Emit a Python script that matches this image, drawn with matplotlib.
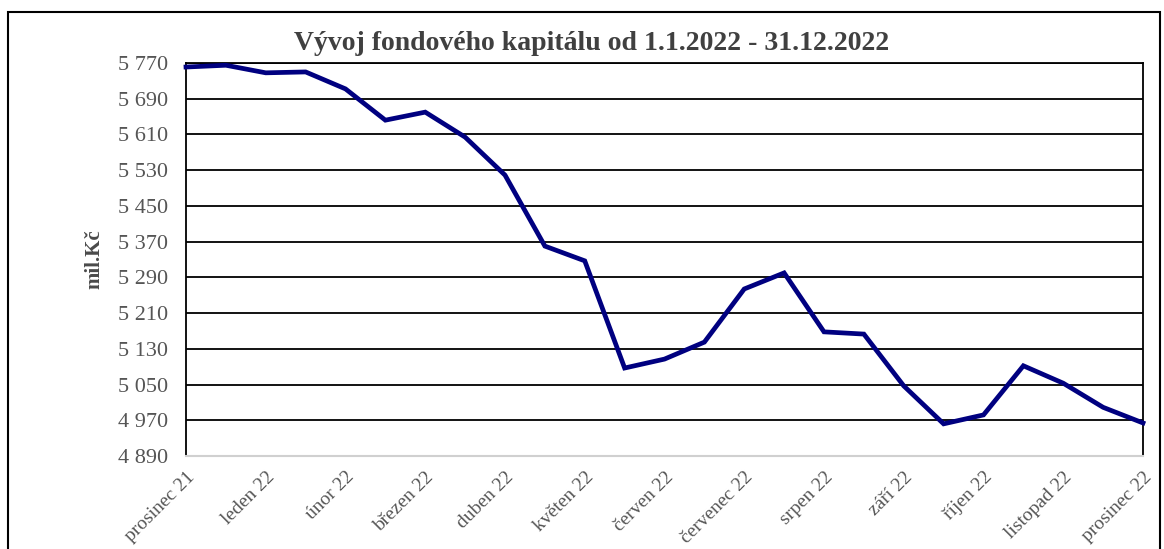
import matplotlib.pyplot as plt
from matplotlib.patches import Rectangle

# half-month values of fund capital, mil. Kč
values = [5761, 5765, 5748, 5750, 5712, 5642, 5660, 5604, 5519, 5360, 5327,
          5087, 5107, 5145, 5264, 5300, 5168, 5163, 5047, 4962, 4982, 5092,
          5053, 4999, 4964]
months = ['prosinec 21', 'leden 22', 'únor 22', 'březen 22', 'duben 22',
          'květen 22', 'červen 22', 'červenec 22', 'srpen 22', 'září 22',
          'říjen 22', 'listopad 22', 'prosinec 22']
yticks = list(range(4890, 5771, 80))

plt.rcParams['font.family'] = ['Liberation Serif', 'DejaVu Serif']

fig = plt.figure(figsize=(11.64, 5.49), dpi=100)
W, H = 1164, 549
ax = fig.add_axes([186 / W, 1 - 456 / H, (1143 - 186) / W, (456 - 63) / H])

# outer frame of the chart
fig.patches.append(Rectangle((8 / W, -0.1), 1152 / W, 1.1 - 12 / H,
                             transform=fig.transFigure, fill=False,
                             edgecolor='black', linewidth=1.5))

x = list(range(len(values)))
ax.plot(x, values, color='#000080', linewidth=3.4, solid_joinstyle='miter', clip_on=False, zorder=3)

ax.set_xlim(0, len(values) - 1)
ax.set_ylim(4890, 5770)
ax.set_yticks(yticks)
ax.set_yticklabels([f'{v // 1000} {v % 1000:03d}' for v in yticks], fontsize=16, color='#555555')
ax.set_xticks(x[::2])
ax.set_xticklabels(months, rotation=45, ha='right', va='top', rotation_mode='anchor',
                   fontsize=14, color='#555555')
ax.tick_params(length=0)
ax.tick_params(axis='y', pad=13)
ax.tick_params(axis='x', pad=9)

ax.yaxis.grid(True, color='black', linewidth=1.3)
ax.set_axisbelow(True)
for s in ['left', 'right', 'top']:
    ax.spines[s].set_color('black')
    ax.spines[s].set_linewidth(1.3)
ax.spines['bottom'].set_color('#d0d0d0')
ax.spines['bottom'].set_linewidth(1.5)

ax.set_ylabel('mil.Kč', fontsize=15, fontweight='bold', color='#4a4a4a')
ax.yaxis.set_label_coords(-0.085, 0.5)
fig.text(592 / W, 1 - 43 / H, 'Vývoj fondového kapitálu od 1.1.2022 - 31.12.2022',
         ha='center', va='center', fontsize=20, fontweight='bold', color='#404040')

fig.savefig('out.png', dpi=100)
